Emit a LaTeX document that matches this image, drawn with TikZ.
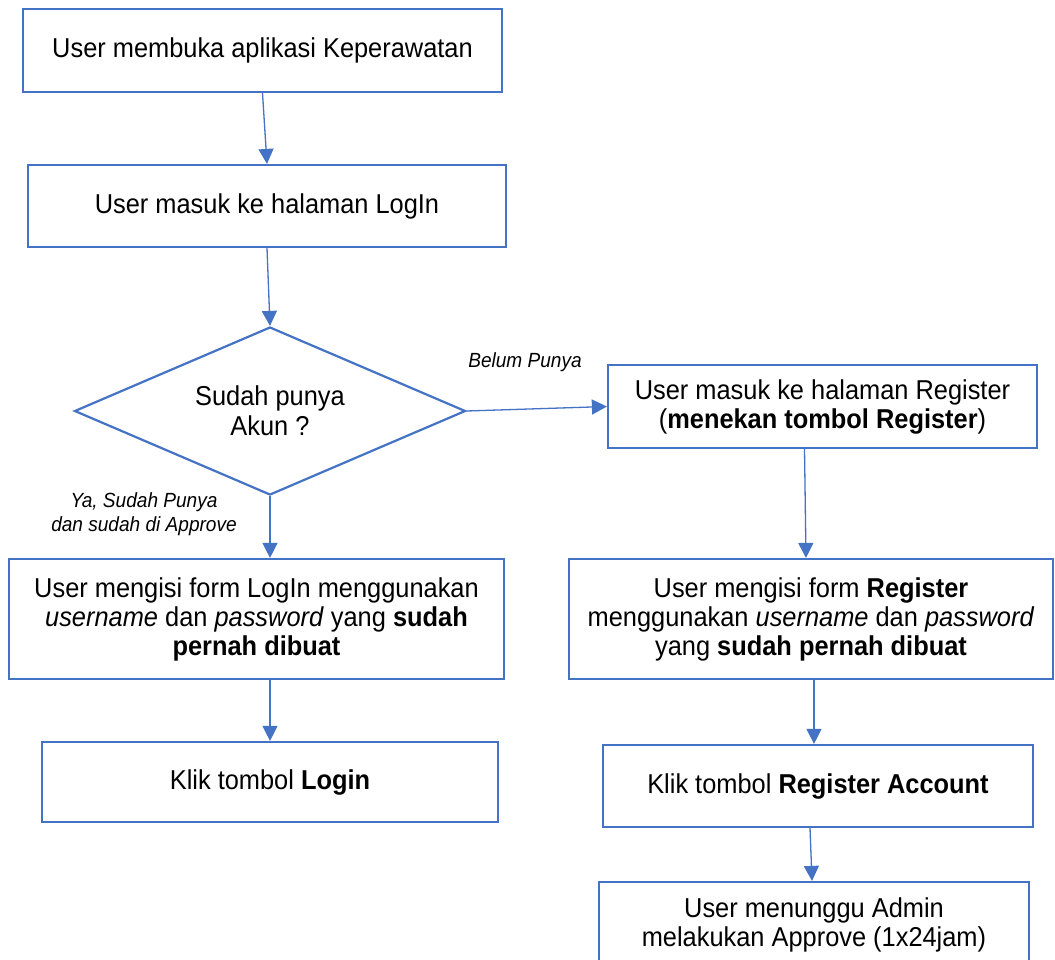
\documentclass[tikz,border=0pt]{standalone}
\usepackage{fontspec}
\setmainfont[FakeStretch=0.93]{Liberation Sans}
\usetikzlibrary{shapes.geometric,arrows.meta,calc}
\definecolor{bl}{HTML}{4472C4}
\begin{document}
\begin{tikzpicture}[x=1pt,y=-1pt,
  box/.style={draw=bl,line width=2.2pt,rectangle,align=center,inner sep=0pt,font=\fontsize{27.3}{29}\selectfont},
  dec/.style={draw=bl,line width=2.2pt,diamond,aspect=2.33,align=center,inner sep=0pt,font=\fontsize{27.3}{30}\selectfont},
  arr/.style={draw=bl,line width=1.3pt,-{Triangle[length=15pt,width=15pt]}},
  lab/.style={font=\fontsize{20.5}{23.5}\selectfont\itshape,align=center,inner sep=0pt}]
\useasboundingbox[fill=white] (0,0) rectangle (1055,959);

\node[box,minimum width=479,minimum height=83] (b1) at (262.5,50.5) {User membuka aplikasi Keperawatan};
\node[box,minimum width=478,minimum height=82] (b2) at (267,206) {User masuk ke halaman LogIn};
\node[dec,minimum width=391,minimum height=168] (d) at (270,411) {Sudah punya\\Akun ?};
\node[box,minimum width=429,minimum height=83] (b3) at (822.5,406.5) {User masuk ke halaman Register\\(\textbf{menekan tombol Register})};
\node[box,minimum width=495,minimum height=120] (b4) at (256.5,619) {User mengisi form LogIn menggunakan\\\textit{username} dan \textit{password} yang \textbf{sudah}\\\textbf{pernah dibuat}};
\node[box,minimum width=456,minimum height=80] (b5) at (270,782) {Klik tombol \textbf{Login}};
\node[box,minimum width=484,minimum height=120] (b6) at (811,619) {User mengisi form \textbf{Register}\\menggunakan \textit{username} dan \textit{password}\\yang \textbf{sudah pernah dibuat}};
\node[box,minimum width=430,minimum height=82] (b7) at (818,786) {Klik tombol \textbf{Register Account}};
\node[box,minimum width=430,minimum height=86] (b8) at (814,925) {User menunggu Admin\\melakukan Approve (1x24jam)};

\node[lab] (l1) at (525,362) {Belum Punya};
\node[lab] (l2) at (144,514) {Ya, Sudah Punya\\dan sudah di Approve};

\draw[arr] (b1.south) -- (b2.north);
\draw[arr] (b2.south) -- (d.north);
\draw[arr] (d.south) -- (d.south |- b4.north);
\draw[arr] (b5.north |- b4.south) -- (b5.north);
\draw[arr] (d.east) -- (b3.west);
\draw[arr] ($(b3.south)+(-18,0)$) -- ($(b6.north)+(-5,0)$);
\draw[arr] ($(b6.south)+(3,0)$) -- ($(b7.north)+(-4,0)$);
\draw[arr] ($(b7.south)+(-8,0)$) -- ($(b8.north)+(-2,0)$);
\end{tikzpicture}
\end{document}
